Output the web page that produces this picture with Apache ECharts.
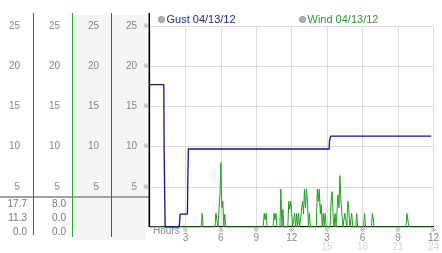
<!DOCTYPE html>
<html><head><meta charset="utf-8">
<script src="https://cdn.jsdelivr.net/npm/echarts@6/dist/echarts.min.js"></script>
<style>html,body{margin:0;padding:0;background:#fff}#c{width:442px;height:253px}</style>
</head><body><div id="c"></div>
<script>
const xTickTop = ['3','6','9','12','3','6','9','12'];
const xTickBottom = ['','','','','15','18','21','24'];
const gustName = 'Gust 04/13/12';
const windName = 'Wind 04/13/12';
const gustStats = ['17.7','11.3','0.0'];
const windStats = ['8.0','0.0','0.0'];
const gust = [[0,17.7],[1.17,17.7],[1.2,8.9],[1.28,0],[2.47,0],[2.56,1.6],[3.17,1.6],[3.2,5.75],[3.25,9.7],[15.17,9.7],[15.2,10.7],[15.3,11.3],[23.81,11.3]];
const wind = [[0,0],[4.33,0],[4.42,1.7],[4.5,0],
[5.5,0],[5.58,1.7],[5.67,0.8],[5.75,0],
[5.83,0],[5.92,4.0],[6.0,8.0],[6.08,2.4],[6.17,3.2],[6.25,0],[6.33,1.6],[6.42,0],
[9.58,0],[9.67,1.7],[9.75,0.9],[9.83,1.7],[9.92,0],
[10.42,0],[10.5,1.7],[10.58,0.9],[10.67,1.7],[10.75,0],
[11.0,0],[11.08,4.7],[11.17,0],[11.25,2.2],[11.33,0],
[11.67,0],[11.75,3.2],[11.83,2.2],[11.92,3.2],[12.0,1.7],[12.08,0],
[12.17,0],[12.25,1.7],[12.33,0],
[12.42,1.7],[12.5,0],[12.58,1.7],[12.67,0],
[12.83,0],[12.92,3.2],[13.0,1.6],[13.08,4.7],[13.17,2.4],[13.25,4.7],[13.33,3.2],[13.42,0],
[13.5,1.7],[13.58,0],
[14.08,0],[14.17,4.7],[14.25,3.2],[14.33,4.7],[14.42,1.6],[14.5,2.8],[14.58,0],
[14.67,1.7],[14.75,0],[14.83,1.7],[14.92,0],
[15.25,0],[15.33,3.2],[15.42,4.4],[15.5,1.6],[15.58,0],[15.67,1.7],[15.75,0],
[15.83,0],[15.92,4.0],[16.0,2.4],[16.08,6.4],[16.17,3.2],[16.25,1.7],[16.33,0],
[16.42,0],[16.5,1.7],[16.58,0.8],[16.67,0],[16.75,3.2],[16.83,2.4],[16.92,0],
[17.0,0],[17.08,1.7],[17.17,0],
[17.42,0],[17.5,1.7],[17.58,0],
[18.08,0],[18.17,1.7],[18.25,0],
[18.75,0],[18.83,1.7],[18.92,1.7],[19.0,0],
[21.67,0],[21.75,1.7],[21.83,1.7],[21.92,0],
[23.83,0]];

const FONT = 'Liberation Sans';
const labelColor = '#888';
function sideAxis(offset, margin) {
  return {
    type: 'value', gridIndex: 0, position: 'left', offset: offset,
    min: 0, max: 25, interval: 5,
    axisLine: {show: false}, axisTick: {show: false}, splitLine: {show: false},
    axisLabel: {margin: margin, color: labelColor, fontSize: 10, fontFamily: FONT,
      formatter: v => v === 0 ? '' : String(v)}
  };
}
const statTexts = [];
gustStats.forEach((t, i) => statTexts.push({type: 'text', x: 27, y: 204 + i * 14, z: 20,
  style: {text: t, fill: '#777', font: '10px ' + FONT, textAlign: 'right', textVerticalAlign: 'middle'}}));
windStats.forEach((t, i) => statTexts.push({type: 'text', x: 66, y: 204 + i * 14, z: 20,
  style: {text: t, fill: '#777', font: '10px ' + FONT, textAlign: 'right', textVerticalAlign: 'middle'}}));

const chart = echarts.init(document.getElementById('c'), null, {renderer: 'canvas'});
chart.setOption({
  animation: false,
  backgroundColor: '#fff',
  textStyle: {fontFamily: FONT},
  grid: {left: 150, right: 4, top: 26, bottom: 26},
  legend: [
    {left: 158, top: 14, itemWidth: 6, itemHeight: 6, icon: 'circle', padding: 0,
     data: [{name: gustName, itemStyle: {color: '#b4b4b4', borderColor: '#8a8a8a', borderWidth: 1},
             textStyle: {color: '#1c2a8c'}}],
     textStyle: {fontSize: 11, fontFamily: FONT, padding: [0, 0, 0, -3]}},
    {left: 299, top: 14, itemWidth: 6, itemHeight: 6, icon: 'circle', padding: 0,
     data: [{name: windName, itemStyle: {color: '#b4b4b4', borderColor: '#8a8a8a', borderWidth: 1},
             textStyle: {color: '#2a9a2a'}}],
     textStyle: {fontSize: 11, fontFamily: FONT, padding: [0, 0, 0, -3]}}
  ],
  title: {text: 'Hours', left: 153, top: 226, padding: 0,
    textStyle: {fontSize: 10, fontWeight: 'normal', color: labelColor, fontFamily: FONT}},
  xAxis: {
    type: 'value', min: 0, max: 24, interval: 3, offset: -1,
    axisLine: {show: true, lineStyle: {color: '#000', width: 1}},
    axisTick: {show: false},
    splitLine: {show: true, lineStyle: {color: '#dcdcdc'}},
    axisLabel: {
      margin: 1,
      formatter: v => {
        if (v === 0) return '';
        const i = v / 3 - 1;
        return '{m|※}\n{n|' + xTickTop[i] + '}\n{f|' + (xTickBottom[i] || ' ') + '}';
      },
      rich: {
        m: {fontSize: 7, lineHeight: 7, color: '#999', fontFamily: 'DejaVu Sans', align: 'center'},
        n: {fontSize: 10, lineHeight: 9, color: labelColor, fontFamily: FONT, align: 'center'},
        f: {fontSize: 10, lineHeight: 9, color: '#d6d6d6', fontFamily: FONT, align: 'center'}
      }
    }
  },
  yAxis: [
    {type: 'value', min: 0, max: 25, interval: 5, position: 'left',
     axisLine: {show: false}, axisTick: {show: false},
     splitLine: {show: true, lineStyle: {color: '#dcdcdc'}},
     axisLabel: {margin: 1, color: '#999', fontSize: 7, fontFamily: 'DejaVu Sans',
       formatter: v => v === 0 ? '' : '※'}},
    sideAxis(0, 13),
    sideAxis(51, 0),
    sideAxis(90, 0),
    sideAxis(130, 0)
  ],
  graphic: [
    {type: 'rect', shape: {x: 73, y: 15, width: 38, height: 225}, style: {fill: '#f5f5f5'}, z: -10},
    {type: 'rect', shape: {x: 112, y: 15, width: 34, height: 225}, style: {fill: '#f5f5f5'}, z: -10},
    {type: 'rect', shape: {x: 0, y: 196, width: 149, height: 2}, style: {fill: '#a2a2a2'}, z: 5},
    {type: 'rect', shape: {x: 33, y: 13, width: 1, height: 222}, style: {fill: '#2f55c8'}, z: 10},
    {type: 'rect', shape: {x: 72, y: 13, width: 1, height: 224}, style: {fill: '#2ea82e'}, z: 10},
    {type: 'rect', shape: {x: 111, y: 13, width: 1, height: 224}, style: {fill: '#c82828'}, z: 10},
    {type: 'rect', shape: {x: 148.5, y: 13, width: 1.5, height: 214}, style: {fill: '#000'}, z: 10},
    ...statTexts
  ],
  series: [
    {name: gustName, type: 'line', data: gust, symbol: 'none', z: 4,
     lineStyle: {color: '#12128a', width: 1.3}, itemStyle: {color: '#12128a'}},
    {name: windName, type: 'line', data: wind, symbol: 'none', z: 3,
     lineStyle: {color: '#22a022', width: 1}, itemStyle: {color: '#22a022'}}
  ]
});
</script></body></html>
